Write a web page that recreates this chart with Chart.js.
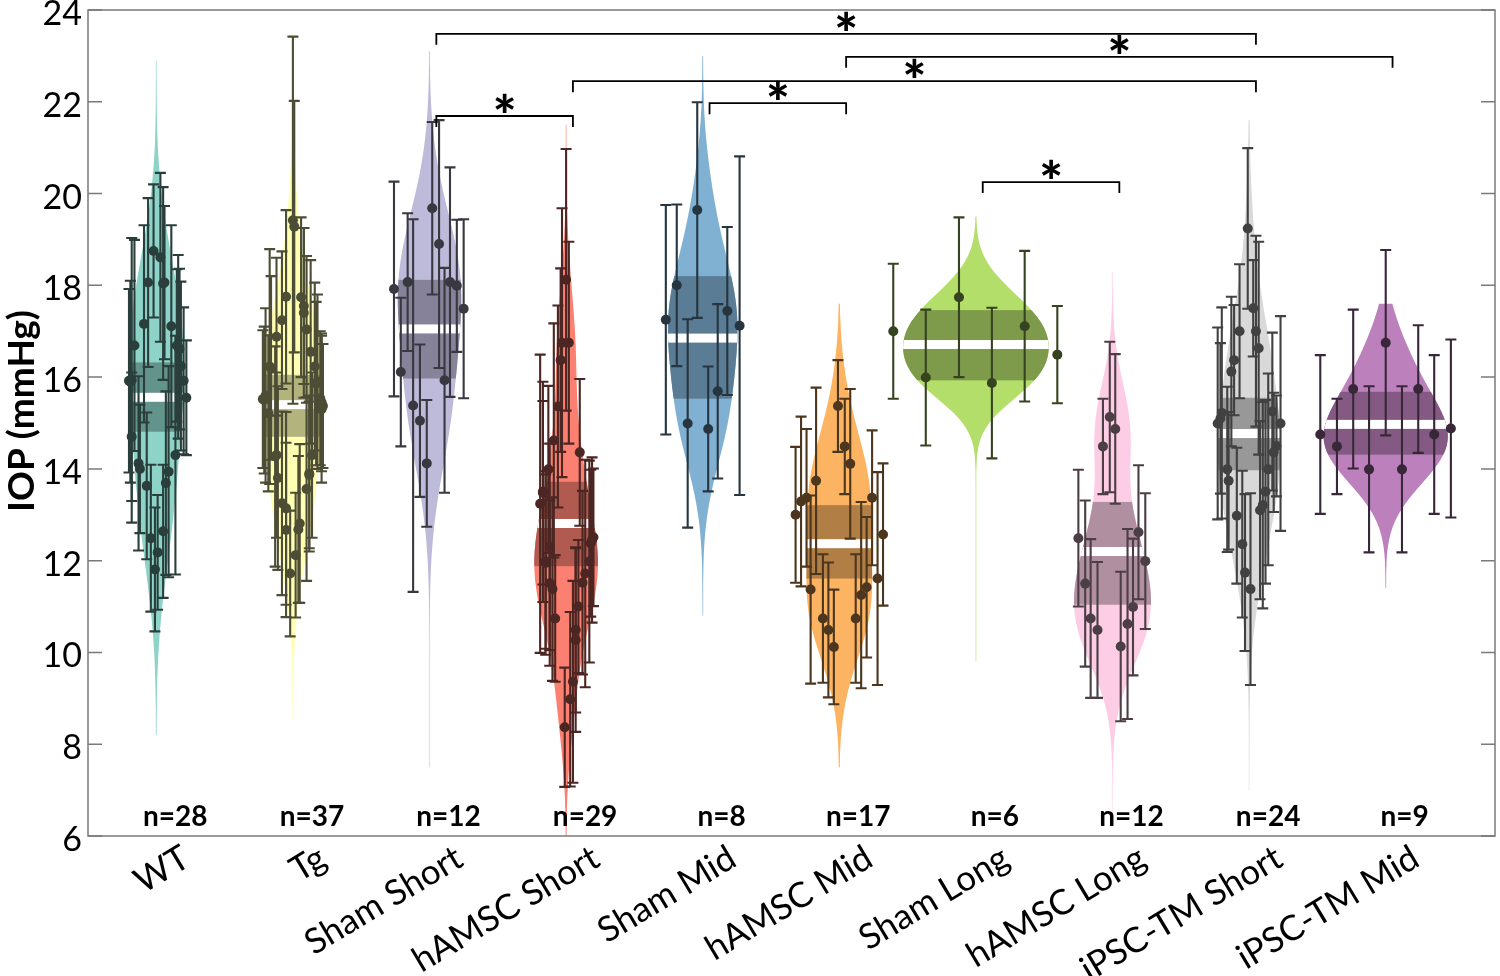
<!DOCTYPE html>
<html><head><meta charset="utf-8">
<script src="https://cdn.jsdelivr.net/npm/chart.js@4.4.1/dist/chart.umd.min.js"></script>
<style>html,body{margin:0;padding:0;background:#fff;}canvas{display:block;}</style>
</head><body>
<canvas id="c" width="1500" height="976"></canvas>
<script>
// ---------------- DATA ----------------
const groupNames = ['WT','Tg','Sham Short','hAMSC Short','Sham Mid','hAMSC Mid','Sham Long','hAMSC Long','iPSC-TM Short','iPSC-TM Mid'];
const nValues = [28,37,12,29,8,17,6,12,24,9];
const yTickValues = [6,8,10,12,14,16,18,20,22,24];
const yTitle = 'IOP (mmHg)';
const groupMeans = [15.56,15.40,17.05,12.81,16.85,12.37,16.71,12.20,14.77,14.97];
const ciLow  = [14.81,14.70,15.97,11.88,15.53,11.61,15.93,11.04,13.97,14.31];
const ciHigh = [16.32,16.05,18.12,13.72,18.20,13.21,17.46,13.28,15.55,15.68];
const tailLow  = [8.2,8.5,7.5,6.0,10.8,7.5,9.8,6.2,7.0,11.4];
const tailHigh = [22.9,23.0,23.1,21.5,23.0,17.6,19.5,18.3,21.6,17.6];

const wtIOP = [18.75,18.61,18.06,18.06,17.16,17.11,16.69,16.69,16.61,16.24,15.92,15.93,15.92,15.55,14.70,14.30,14.12,14.00,13.94,13.69,13.63,12.49,12.64,12.18,11.81,15.90,16.66,18.04];
const wtSD  = [1.45,1.84,1.84,1.67,2.15,2.20,2.30,1.66,1.75,1.84,2.00,3.10,1.60,1.25,1.40,2.60,1.90,1.40,2.30,2.00,1.60,1.60,1.45,1.25,1.35,2.20,2.00,2.10];
const wtJitter = [-0.02,0.03,-0.06,0.06,-0.09,0.11,-0.16,0.15,0.17,0.18,-0.20,-0.18,0.20,0.22,-0.18,0.14,-0.13,-0.12,0.09,0.07,-0.07,-0.04,0.05,0.01,-0.01,-0.19,0.16,0.05];

const tgIOP = [19.42,19.28,17.75,17.74,17.55,17.40,17.24,17.04,16.88,16.55,16.23,16.23,15.86,15.52,15.54,15.37,15.21,14.27,14.30,13.87,13.80,13.56,13.25,13.14,12.81,12.67,12.68,12.12,11.72,15.50,15.45,16.20,15.90,14.30,13.90,15.60,15.30];
const tgSD  = [4.00,2.74,1.89,1.74,1.70,1.85,1.50,1.60,1.72,2.00,2.56,1.83,1.78,1.50,1.46,1.35,1.70,2.40,1.80,1.60,2.00,2.00,2.00,2.10,1.73,1.90,1.60,1.36,1.37,1.60,1.50,2.00,1.90,1.80,1.70,1.90,1.60];
const tgJitter = [0.00,0.01,-0.05,0.06,0.08,0.08,-0.08,0.10,-0.12,0.13,-0.17,0.16,0.17,-0.22,0.20,0.22,-0.18,-0.13,0.14,0.12,-0.11,0.10,-0.08,-0.05,0.05,-0.05,0.04,0.02,-0.02,-0.21,0.21,-0.16,0.18,-0.12,0.12,-0.20,0.21];

const shamShortIOP = [19.68,18.90,17.92,18.07,18.07,17.99,17.49,16.11,15.93,15.38,15.05,14.12];
const shamShortSD  = [1.88,2.70,2.34,1.50,2.50,1.44,1.95,1.62,2.45,4.06,1.66,1.38];
const shamShortJitter = [0.02,0.07,-0.26,-0.16,0.15,0.20,0.25,-0.21,0.11,-0.12,-0.07,-0.02];

const hamscShortIOP = [18.12,16.75,16.75,16.37,15.36,14.62,14.36,13.99,13.48,13.24,12.51,12.38,12.30,11.98,11.98,11.72,11.51,11.38,11.52,11.00,10.74,10.49,10.27,9.36,8.98,8.37,13.50,12.45,11.95];
const hamscShortSD  = [2.85,2.93,2.20,2.00,2.20,2.55,1.60,1.82,2.00,3.25,1.50,1.60,2.25,1.90,2.20,2.48,1.80,2.00,2.00,1.45,1.38,1.80,2.00,2.20,1.90,1.30,2.40,1.80,2.00];
const hamscShortJitter = [0.00,-0.03,0.02,-0.04,-0.06,-0.09,0.10,-0.13,-0.17,-0.19,0.20,0.18,-0.12,-0.15,0.17,0.14,-0.12,-0.10,0.12,0.09,-0.08,0.07,0.07,0.05,0.03,-0.01,-0.17,0.19,-0.15];

const shamMidIOP = [19.64,18.00,17.25,17.44,17.12,15.69,14.99,14.87];
const shamMidSD  = [2.35,1.76,2.50,1.83,3.69,1.90,2.27,1.36];
const shamMidJitter = [-0.04,-0.19,-0.27,0.18,0.27,0.11,-0.11,0.04];

const hamscMidIOP = [15.37,14.49,14.11,13.74,13.37,13.37,13.29,13.00,12.57,11.37,11.42,11.25,11.61,10.74,10.49,10.12,10.74];
const hamscMidSD  = [1.00,1.04,1.63,2.03,1.47,1.50,1.85,1.48,1.55,2.05,1.53,2.03,2.32,1.40,1.47,1.25,1.40];
const hamscMidJitter = [-0.01,0.04,0.08,-0.17,0.24,-0.24,-0.28,-0.32,0.32,-0.21,0.20,0.16,0.28,-0.12,-0.08,-0.04,0.12];

const shamLongIOP = [17.00,15.99,17.74,15.87,17.11,16.49];
const shamLongSD  = [1.47,1.48,1.74,1.64,1.64,1.06];
const shamLongJitter = [-0.605,-0.367,-0.124,0.117,0.357,0.596];

const hamscLongIOP = [15.13,14.87,14.49,12.49,12.62,11.99,11.50,10.99,10.74,10.62,10.49,10.13];
const hamscLongSD  = [1.64,1.63,1.04,1.49,1.46,1.48,1.81,1.49,1.73,2.07,1.48,1.63];
const hamscLongJitter = [-0.02,0.02,-0.07,-0.25,0.19,0.24,-0.20,0.15,-0.16,0.11,-0.11,0.06];

const ipscShortIOP = [19.24,17.50,17.00,17.00,16.63,16.37,16.12,15.25,15.22,15.10,14.99,14.99,14.50,14.36,13.99,13.99,13.74,13.50,13.21,13.10,12.98,12.36,11.74,11.38];
const ipscShortSD  = [1.75,1.05,1.46,2.08,2.32,1.20,1.63,1.72,2.30,1.64,2.09,2.34,1.10,1.30,1.80,2.09,1.50,2.00,2.25,1.94,1.48,1.60,1.71,2.09];
const ipscShortJitter = [-0.01,0.03,-0.07,0.05,0.07,-0.11,-0.13,0.17,-0.20,-0.21,-0.23,0.23,0.20,0.18,-0.16,0.14,-0.15,0.12,0.10,0.08,-0.09,-0.05,-0.03,0.01];

const ipscMidIOP = [14.75,14.49,15.74,13.99,16.75,13.99,15.74,14.75,14.88];
const ipscMidSD  = [1.73,1.04,1.73,1.81,2.02,1.81,1.39,1.73,1.94];
const ipscMidJitter = [-0.479,-0.357,-0.238,-0.122,0.0,0.119,0.238,0.355,0.477];

// significance brackets (group numbers, 1-based) and bracket level (mmHg)
const bracketFrom  = [3,6,4,3,5,7];
const bracketTo    = [9,10,9,4,6,8];
const bracketLevel = [23.48,22.98,22.45,21.69,21.97,20.25];

// ---------------- STYLE ----------------
const fillColors = ['#8DD3C7','#FFFFB3','#BEBADA','#FB8072','#80B1D3','#FDB462','#B3DE69','#FCCDE5','#D9D9D9','#BC80BD'];
const FONT = 'Lato';
const violinScale = 1.3;     // x-units per unit of density
const bandShade = 0.7, pointShade = 0.3;

function hexRgb(h){return [1,3,5].map(i=>parseInt(h.substr(i,2),16));}
function shade(h,f,a){const c=hexRgb(h).map(v=>Math.round(v*f));return a===undefined?`rgb(${c})`:`rgba(${c},${a})`;}
function median(a){const s=[...a].sort((p,q)=>p-q);const m=s.length>>1;return s.length%2?s[m]:(s[m-1]+s[m])/2;}

const groups = [
  {v:wtIOP,sd:wtSD,j:wtJitter},{v:tgIOP,sd:tgSD,j:tgJitter},
  {v:shamShortIOP,sd:shamShortSD,j:shamShortJitter},{v:hamscShortIOP,sd:hamscShortSD,j:hamscShortJitter},
  {v:shamMidIOP,sd:shamMidSD,j:shamMidJitter},{v:hamscMidIOP,sd:hamscMidSD,j:hamscMidJitter},
  {v:shamLongIOP,sd:shamLongSD,j:shamLongJitter},{v:hamscLongIOP,sd:hamscLongSD,j:hamscLongJitter},
  {v:ipscShortIOP,sd:ipscShortSD,j:ipscShortJitter},{v:ipscMidIOP,sd:ipscMidSD,j:ipscMidJitter}
];

const datasets = groups.map((g,gi)=>({
  label: groupNames[gi],
  data: g.v.map((v,i)=>({x: gi+1+g.j[i], y: v})),
  backgroundColor: shade(fillColors[gi],pointShade),
  borderWidth: 0,
  pointRadius: 5,
  pointHoverRadius: 5
}));

const violinPlugin = {
  id: 'violins',
  beforeDatasetsDraw(chart){
    const {ctx, chartArea:a, scales:{x,y}} = chart;
    ctx.save();
    ctx.beginPath(); ctx.rect(a.left,a.top,a.right-a.left,a.bottom-a.top); ctx.clip();
    groups.forEach((g,gi)=>{
      const c = gi+1, vals = g.v, n = vals.length;
      const med = median(vals);
      const sig = median(vals.map(v=>Math.abs(v-med)))/0.6745;
      const bw = sig*Math.pow(4/(3*n),0.2);
      const N = 300, prof = [];
      for(let k=0;k<=N;k++){
        const yy = tailLow[gi]+(tailHigh[gi]-tailLow[gi])*k/N;
        let d=0; for(const v of vals){const u=(yy-v)/bw; d+=Math.exp(-0.5*u*u);}
        d/= n*bw*Math.sqrt(2*Math.PI);
        prof.push([yy,d*violinScale]);
      }
      const path = new Path2D();
      prof.forEach(([yy,w],k)=>{const px=x.getPixelForValue(c+w),py=y.getPixelForValue(yy);k?path.lineTo(px,py):path.moveTo(px,py);});
      for(let k=prof.length-1;k>=0;k--){const [yy,w]=prof[k];path.lineTo(x.getPixelForValue(c-w),y.getPixelForValue(yy));}
      path.closePath();
      const cx = x.getPixelForValue(c);
      ctx.strokeStyle = shade(fillColors[gi],1,0.45); ctx.lineWidth = 1.3;
      ctx.beginPath(); ctx.moveTo(cx,y.getPixelForValue(tailLow[gi])); ctx.lineTo(cx,y.getPixelForValue(tailHigh[gi])); ctx.stroke();
      ctx.fillStyle = fillColors[gi]; ctx.fill(path);
      ctx.save(); ctx.clip(path);
      const xl = x.getPixelForValue(c-1), xr = x.getPixelForValue(c+1);
      const yh = y.getPixelForValue(ciHigh[gi]), yl = y.getPixelForValue(ciLow[gi]);
      ctx.fillStyle = shade(fillColors[gi],bandShade);
      ctx.fillRect(xl,yh,xr-xl,yl-yh);
      const ym = y.getPixelForValue(groupMeans[gi]);
      ctx.fillStyle = '#ffffff';
      ctx.fillRect(xl,ym-4.5,xr-xl,9);
      ctx.restore();
    });
    // error bars
    groups.forEach((g,gi)=>{
      ctx.strokeStyle = shade(fillColors[gi],pointShade);
      ctx.lineWidth = 2.1;
      g.v.forEach((v,i)=>{
        const px = x.getPixelForValue(gi+1+g.j[i]);
        const t = y.getPixelForValue(v+g.sd[i]), b = y.getPixelForValue(v-g.sd[i]);
        ctx.beginPath();
        ctx.moveTo(px,t); ctx.lineTo(px,b);
        ctx.moveTo(px-5.5,t); ctx.lineTo(px+5.5,t);
        ctx.moveTo(px-5.5,b); ctx.lineTo(px+5.5,b);
        ctx.stroke();
      });
    });
    ctx.restore();
  },
  afterDatasetsDraw(chart){
    const {ctx, chartArea:a, scales:{x,y}} = chart;
    ctx.save();
    // frame and inward ticks
    ctx.strokeStyle = '#7a7a7a'; ctx.lineWidth = 1.5;
    ctx.strokeRect(a.left,a.top,a.right-a.left,a.bottom-a.top);
    ctx.beginPath();
    yTickValues.forEach(v=>{
      const py = y.getPixelForValue(v);
      ctx.moveTo(a.left,py); ctx.lineTo(a.left+14,py);
      ctx.moveTo(a.right,py); ctx.lineTo(a.right-14,py);
    });
    ctx.stroke();
    // brackets
    ctx.strokeStyle = '#000'; ctx.lineWidth = 1.8; ctx.fillStyle = '#000';
    ctx.font = `900 56px ${FONT}`; ctx.textAlign = 'center'; ctx.textBaseline = 'alphabetic';
    bracketFrom.forEach((f,i)=>{
      const x1 = x.getPixelForValue(f+0.05), x2 = x.getPixelForValue(bracketTo[i]+0.05);
      const py = y.getPixelForValue(bracketLevel[i]);
      ctx.beginPath();
      ctx.moveTo(x1,py+11); ctx.lineTo(x1,py); ctx.lineTo(x2,py); ctx.lineTo(x2,py+11);
      ctx.stroke();
      ctx.fillText('*',(x1+x2)/2,py+20);
    });
    // n labels
    ctx.font = `bold 28px ${FONT}`;
    nValues.forEach((n,i)=>{
      ctx.fillText('n='+n, x.getPixelForValue(i+1)+19, y.getPixelForValue(6.22));
    });
    // y-axis title
    ctx.save();
    ctx.translate(22, (a.top+a.bottom)/2 - 12);
    ctx.rotate(-Math.PI/2);
    ctx.font = `bold 37px ${FONT}`; ctx.textBaseline = 'middle';
    ctx.fillText(yTitle, 0, 0);
    ctx.restore();
    ctx.restore();
  }
};

Chart.defaults.font.family = FONT;
new Chart(document.getElementById('c'),{
  type:'scatter',
  data:{datasets},
  options:{
    responsive:false, animation:false, devicePixelRatio:1,
    layout:{padding:{top:10,right:1,left:0,bottom:0}},
    plugins:{legend:{display:false},tooltip:{enabled:false}},
    scales:{
      x:{
        type:'linear', min:0.5, max:10.8,
        afterBuildTicks:(s)=>{s.ticks = groupNames.map((_,i)=>({value:i+1}));},
        afterFit:(s)=>{s.height = 140; s.paddingLeft = 0; s.paddingRight = 0;},
        ticks:{autoSkip:false, maxRotation:31, minRotation:31, labelOffset:30, padding:1,
               color:'#000', font:{size:35, family:FONT},
               callback:(v)=>groupNames[Math.round(v)-1]},
        grid:{display:false, drawTicks:false}, border:{display:false}
      },
      y:{
        min:6, max:24,
        afterBuildTicks:(s)=>{s.ticks = yTickValues.map(v=>({value:v}));},
        afterFit:(s)=>{s.width = 88; s.paddingTop = 0; s.paddingBottom = 0;},
        ticks:{padding:6, labelOffset:4, color:'#000', font:{size:34, family:FONT}},
        grid:{display:false, drawTicks:false}, border:{display:false}
      }
    }
  },
  plugins:[violinPlugin]
});
</script>
</body></html>
